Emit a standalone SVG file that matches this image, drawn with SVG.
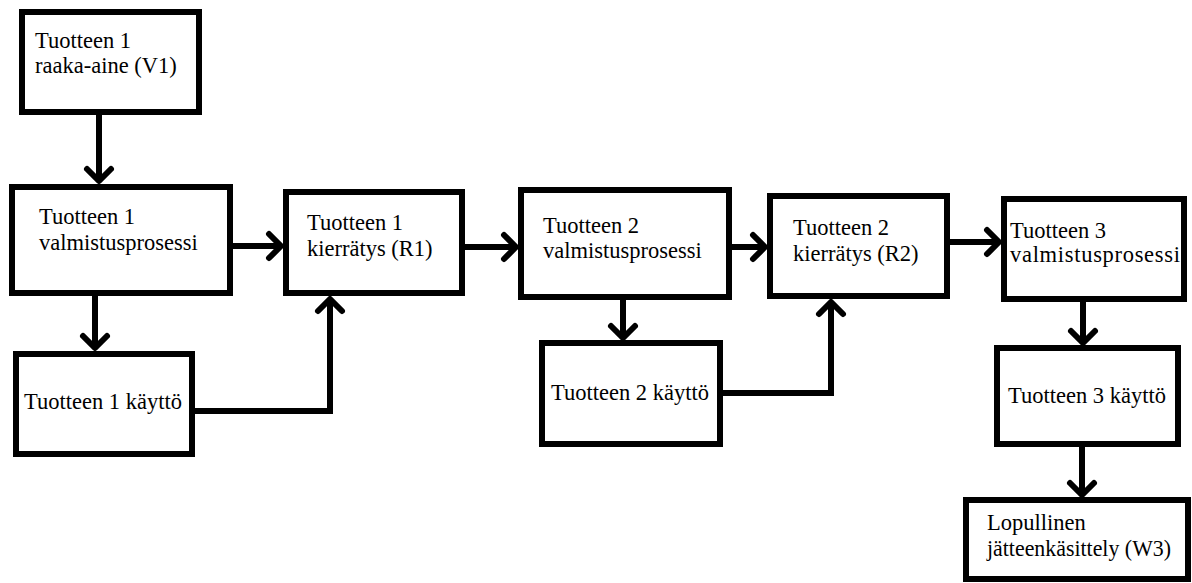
<svg xmlns="http://www.w3.org/2000/svg" width="1192" height="583" viewBox="0 0 1192 583">
  <style>
    .box { fill: #ffffff; stroke: #000000; stroke-width: 6; }
    .lbl { font-family: 'Liberation Serif', 'Times New Roman', 'DejaVu Serif', serif; font-size: 22.5px; fill: #000000; }
    .link { fill: none; stroke: #000000; stroke-width: 6; stroke-linejoin: miter; }
  </style>
  <defs>
    <marker id="chev" markerUnits="userSpaceOnUse" markerWidth="40" markerHeight="40" viewBox="-20 -20 40 40" refX="0" refY="0" orient="auto" overflow="visible">
      <path d="M-12,-12 L0,0 L-12,12" fill="none" stroke="#000000" stroke-width="6" stroke-linecap="round" stroke-linejoin="round"/>
    </marker>
  </defs>
  <rect width="1192" height="583" fill="#ffffff"/>

  <g id="connectors">
    <path class="link" d="M99,115 L99,181" marker-end="url(#chev)"/>
    <path class="link" d="M233,246 L281,246" marker-end="url(#chev)"/>
    <path class="link" d="M95,296 L95,348" marker-end="url(#chev)"/>
    <path class="link" d="M195,411 L330,411 L330,299" marker-end="url(#chev)"/>
    <path class="link" d="M465,247 L516,247" marker-end="url(#chev)"/>
    <path class="link" d="M732,247 L765,247" marker-end="url(#chev)"/>
    <path class="link" d="M623,300 L623,338" marker-end="url(#chev)"/>
    <path class="link" d="M723,393 L831,393 L831,302" marker-end="url(#chev)"/>
    <path class="link" d="M950,242 L999,242" marker-end="url(#chev)"/>
    <path class="link" d="M1083,302 L1083,343" marker-end="url(#chev)"/>
    <path class="link" d="M1082,447 L1082,495" marker-end="url(#chev)"/>
  </g>

  <g id="v1">
    <rect class="box" x="22" y="12" width="177" height="100"/>
    <text class="lbl" x="35" y="48">Tuotteen 1</text>
    <text class="lbl" x="35" y="73">raaka-aine (V1)</text>
  </g>
  <g id="valmistus1">
    <rect class="box" x="12" y="187" width="218" height="106"/>
    <text class="lbl" x="39" y="224">Tuotteen 1</text>
    <text class="lbl" x="39" y="250">valmistusprosessi</text>
  </g>
  <g id="r1">
    <rect class="box" x="286" y="192" width="176" height="101"/>
    <text class="lbl" x="307" y="230">Tuotteen 1</text>
    <text class="lbl" x="307" y="256">kierrätys (R1)</text>
  </g>
  <g id="kaytto1">
    <rect class="box" x="16" y="354" width="176" height="100"/>
    <text class="lbl" x="24" y="409">Tuotteen 1 käyttö</text>
  </g>
  <g id="valmistus2">
    <rect class="box" x="521" y="190" width="208" height="107"/>
    <text class="lbl" x="543" y="233">Tuotteen 2</text>
    <text class="lbl" x="543" y="258">valmistusprosessi</text>
  </g>
  <g id="r2">
    <rect class="box" x="770" y="196" width="177" height="100"/>
    <text class="lbl" x="793" y="235">Tuotteen 2</text>
    <text class="lbl" x="793" y="261">kierrätys (R2)</text>
  </g>
  <g id="kaytto2">
    <rect class="box" x="542" y="343" width="178" height="101"/>
    <text class="lbl" x="551" y="400">Tuotteen 2 käyttö</text>
  </g>
  <g id="valmistus3">
    <rect class="box" x="1004" y="199" width="180" height="100"/>
    <text class="lbl" x="1010" y="238">Tuotteen 3</text>
    <text class="lbl" x="1010" y="262" textLength="170" lengthAdjust="spacing">valmistusprosessi</text>
  </g>
  <g id="kaytto3">
    <rect class="box" x="997" y="348" width="181" height="96"/>
    <text class="lbl" x="1008" y="403">Tuotteen 3 käyttö</text>
  </g>
  <g id="w3">
    <rect class="box" x="966" y="500" width="222" height="79"/>
    <text class="lbl" x="987" y="530">Lopullinen</text>
    <text class="lbl" x="987" y="556" textLength="184" lengthAdjust="spacingAndGlyphs">jätteenkäsittely (W3)</text>
  </g>
</svg>
